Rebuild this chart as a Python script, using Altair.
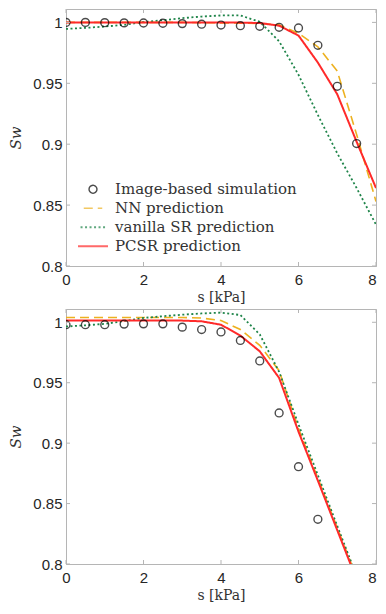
import altair as alt
import pandas as pd

# ---------------- data ----------------
SERIES = ["Image-based simulation", "NN prediction", "vanilla SR prediction", "PCSR prediction"]

# top panel
s_sim_top = [0, 0.5, 1, 1.5, 2, 2.5, 3, 3.5, 4, 4.5, 5, 5.5, 6, 6.5, 7, 7.5]
sw_sim_top = [1.0, 1.0, 0.9998, 0.9996, 0.9995, 0.9993, 0.999, 0.9985, 0.9978, 0.9973,
              0.9968, 0.996, 0.9954, 0.9812, 0.9475, 0.9005]

s_pred_top = [0, 0.5, 1, 1.5, 2, 2.5, 3, 3.5, 4, 4.5, 5, 5.5, 6, 6.5, 7, 7.5, 8]
nn_top = [1.0, 1.0, 1.0, 1.0, 1.0, 1.0, 1.0, 0.9998, 0.9996, 0.9994, 0.9990, 0.998,
          0.991, 0.980, 0.960, 0.908, 0.853]
sr_top = [0.9946, 0.9955, 0.9966, 0.998, 1.0003, 1.0018, 1.0035, 1.0048, 1.0057, 1.0057,
          1.0005, 0.9845, 0.957, 0.924, 0.8925, 0.864, 0.834]
pcsr_top = [1.0, 1.0, 1.0, 1.0, 1.0, 1.0, 1.0, 1.0, 1.0, 0.9998, 0.9995, 0.9973,
            0.9892, 0.967, 0.941, 0.902, 0.864]

# bottom panel
s_sim_bot = [0, 0.5, 1, 1.5, 2, 2.5, 3, 3.5, 4, 4.5, 5, 5.5, 6, 6.5]
sw_sim_bot = [0.998, 0.998, 0.998, 0.9985, 0.9987, 0.9987, 0.996, 0.994, 0.992, 0.985,
              0.968, 0.925, 0.8805, 0.837]

s_pred_bot = [0, 0.5, 1, 1.5, 2, 2.5, 3, 3.5, 4, 4.5, 5, 5.5, 6, 6.5, 7, 7.5]
nn_bot = [1.004, 1.004, 1.004, 1.004, 1.004, 1.004, 1.004, 1.0035, 1.0015, 0.994,
          0.981, 0.960, 0.912, 0.871, 0.830, 0.789]
sr_bot = [0.9965, 0.9975, 0.9987, 1.001, 1.0036, 1.005, 1.0063, 1.0073, 1.008, 1.006,
          0.990, 0.959, 0.9155, 0.8735, 0.8315, 0.79]
pcsr_bot = [1.0014, 1.0014, 1.0014, 1.0014, 1.0014, 1.0014, 1.0014, 1.0008, 0.998, 0.989,
            0.976, 0.954, 0.9095, 0.869, 0.828, 0.787]

x_ticks = [0, 2, 4, 6, 8]
y_ticks = [0.8, 0.85, 0.9, 0.95, 1.0]

COLORS = ["#000000", "#EDB120", "#1E8449", "#FF2A2A"]
DASHES = [[1, 0], [9, 5], [2, 2.5], [1, 0]]
SHAPES = ["circle", "stroke", "stroke", "stroke"]
SIZES = [62, 900, 900, 900]
WIDTHS = [1.4, 2, 2, 2]

W = 310
GRAY = "#b5b5b5"
SERIF = "DejaVu Serif"
SANS = "Liberation Sans"


def pred_frame(s, nn, sr, pc):
    rows = []
    for name, vals in [(SERIES[1], nn), (SERIES[2], sr), (SERIES[3], pc)]:
        for a, b in zip(s, vals):
            rows.append({"s": a, "Sw": b, "series": name})
    return pd.DataFrame(rows)


def panel(s_sim, sw_sim, s_pred, nn, sr, pc, H, show_legend, xlab_pad, xtitle_pad):
    xs = alt.Scale(domain=[0, 8], nice=False)
    ys = alt.Scale(domain=[0.8, 1.011], nice=False, zero=False)
    xax = alt.Axis(values=x_ticks, ticks=False, labelFont=SANS, labelFontSize=15,
                   labelColor="#262626", labelPadding=xlab_pad, domainColor=GRAY,
                   labelAlign={"condition": {"test": "datum.value == 8", "value": "right"},
                               "value": "center"},
                   title="s [kPa]", titleFont=SERIF, titleFontSize=14,
                   titleFontWeight="normal", titleColor="#333333", titlePadding=xtitle_pad,
                   grid=False)
    yax = alt.Axis(values=y_ticks, ticks=False, labelFont=SANS, labelFontSize=15,
                   labelColor="#262626", labelPadding=4, domainColor=GRAY,
                   title="Sw", titleFont=SERIF, titleFontSize=15, titleFontStyle="italic",
                   titleFontWeight="normal", titleColor="#333333", titlePadding=9,
                   grid=False, labelExpr="datum.value == 1 ? '1' : format(datum.value, '.2~f')")

    if show_legend:
        leg = alt.Legend(
            orient="none", legendX=11, legendY=171, title=None,
            labelFont=SERIF, labelFontSize=15, labelColor="#333333", labelLimit=300,
            symbolFillColor="transparent",
            labelOffset=6, rowPadding=0, clipHeight=18.5,
        )
    else:
        leg = None

    cscale = alt.Scale(domain=SERIES, range=COLORS)
    dscale = alt.Scale(domain=SERIES, range=DASHES)
    shscale = alt.Scale(domain=SERIES, range=SHAPES)
    szscale = alt.Scale(domain=SERIES, range=SIZES)
    wscale = alt.Scale(domain=SERIES, range=WIDTHS)

    lines = alt.Chart(pred_frame(s_pred, nn, sr, pc)).mark_line(clip=True).encode(
        x=alt.X("s:Q", scale=xs, axis=xax),
        y=alt.Y("Sw:Q", scale=ys, axis=yax),
        color=alt.Color("series:N", scale=cscale, legend=leg, sort=SERIES),
        strokeDash=alt.StrokeDash("series:N", scale=dscale, legend=leg, sort=SERIES),
        strokeWidth=alt.StrokeWidth("series:N", scale=wscale, legend=leg, sort=SERIES),
    )
    sim_df = pd.DataFrame({"s": s_sim, "Sw": sw_sim, "series": SERIES[0]})
    sim = alt.Chart(sim_df).mark_point(filled=False, clip=True).encode(
        x=alt.X("s:Q", scale=xs),
        y=alt.Y("Sw:Q", scale=ys),
        color=alt.Color("series:N", scale=cscale, legend=leg, sort=SERIES),
        shape=alt.Shape("series:N", scale=shscale, legend=leg, sort=SERIES),
        size=alt.Size("series:N", scale=szscale, legend=leg, sort=SERIES),
        strokeWidth=alt.StrokeWidth("series:N", scale=wscale, legend=leg, sort=SERIES),
    )

    xt = pd.DataFrame({"t": x_ticks})
    yt = pd.DataFrame({"t": y_ticks})
    tb = alt.Chart(xt).mark_rule(color=GRAY, strokeWidth=1).encode(
        x=alt.X("t:Q", scale=xs), y=alt.value(H), y2=alt.value(H - 4))
    tt = alt.Chart(xt).mark_rule(color=GRAY, strokeWidth=1).encode(
        x=alt.X("t:Q", scale=xs), y=alt.value(0), y2=alt.value(4))
    tl = alt.Chart(yt).mark_rule(color=GRAY, strokeWidth=1).encode(
        y=alt.Y("t:Q", scale=ys), x=alt.value(0), x2=alt.value(4))
    tr = alt.Chart(yt).mark_rule(color=GRAY, strokeWidth=1).encode(
        y=alt.Y("t:Q", scale=ys), x=alt.value(W - 4), x2=alt.value(W))

    return alt.layer(lines, sim, tb, tt, tl, tr).properties(width=W, height=H)


top = panel(s_sim_top, sw_sim_top, s_pred_top, nn_top, sr_top, pcsr_top, 257, True, 6, 3)
bot = panel(s_sim_bot, sw_sim_bot, s_pred_bot, nn_bot, sr_bot, pcsr_bot, 255, False, 6, 3)

chart = alt.vconcat(top, bot, spacing=3).resolve_scale(
    color="independent", strokeDash="independent", shape="independent",
    size="independent", strokeWidth="independent"
).properties(padding=0).configure_view(stroke=GRAY, strokeWidth=1)

chart.save("out.html", embed_options={"renderer": "svg", "actions": False})
